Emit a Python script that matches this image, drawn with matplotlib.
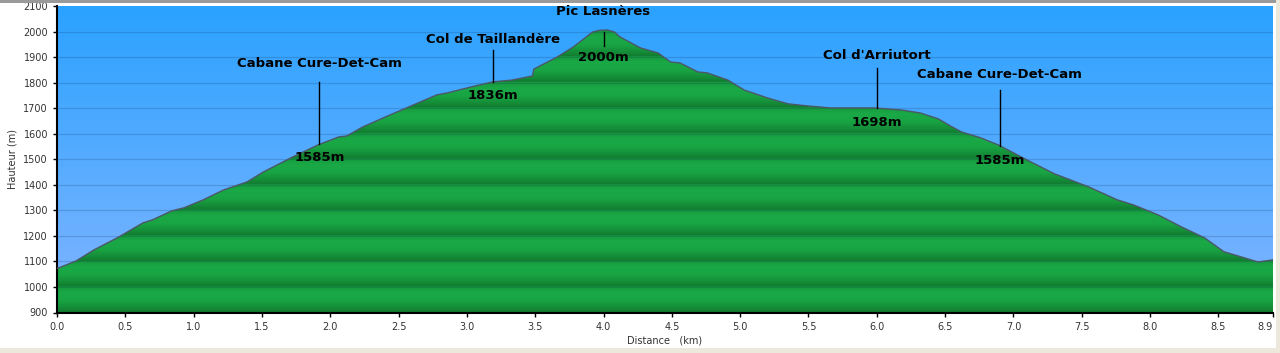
import matplotlib
matplotlib.use("Agg")
import matplotlib.pyplot as plt
import numpy as np
from matplotlib.patches import Polygon, Rectangle
from matplotlib.colors import LinearSegmentedColormap

# Elevation profile
dist_km = [0.0, 0.14, 0.27, 0.44, 0.63, 0.70, 0.84, 0.93, 1.07, 1.22, 1.39, 1.51,
           1.71, 1.91, 2.06, 2.12, 2.24, 2.44, 2.61, 2.78, 2.86, 3.03, 3.19, 3.33,
           3.48, 3.49, 3.66, 3.78, 3.92, 3.97, 4.03, 4.08, 4.12, 4.27, 4.40, 4.49, 4.56,
           4.69, 4.76, 4.91, 5.03, 5.20, 5.35, 5.49, 5.66, 5.98, 6.18, 6.32, 6.45,
           6.54, 6.62, 6.76, 6.89, 7.10, 7.30, 7.55, 7.76, 7.88, 8.06, 8.23, 8.40,
           8.54, 8.69, 8.79, 8.9]
elev_m = [1072, 1102, 1145, 1192, 1251, 1263, 1298, 1310, 1341, 1380, 1411, 1450,
          1505, 1556, 1587, 1591, 1627, 1674, 1713, 1752, 1760, 1783, 1803, 1810,
          1826, 1853, 1900, 1940, 1998, 2005, 2006, 1998, 1979, 1936, 1916, 1881, 1877,
          1842, 1838, 1810, 1771, 1740, 1717, 1709, 1701, 1701, 1693, 1681, 1658,
          1630, 1607, 1584, 1556, 1497, 1443, 1392, 1341, 1321, 1282, 1235, 1192,
          1138, 1114, 1098, 1106]

# Waypoints
wp_names = ["Cabane Cure-Det-Cam", "Col de Taillandère", "Pic Lasnères",
            "Col d'Arriutort", "Cabane Cure-Det-Cam"]
wp_km = [1.92, 3.19, 4.0, 6.0, 6.90]
wp_alt = ["1585m", "1836m", "2000m", "1698m", "1585m"]

# layout of the waypoint labels (elevation units)
name_y = [1873, 1967, 2077, 1908, 1830]
line_top = [1803, 1928, 1998, 1857, 1771]
line_bot = [None, None, 1944, None, None]
value_y = [1505, 1748, 1900, 1642, 1497]

xticks = [0.0, 0.5, 1.0, 1.5, 2.0, 2.5, 3.0, 3.5, 4.0, 4.5, 5.0, 5.5, 6.0, 6.5,
          7.0, 7.5, 8.0, 8.5, 8.9]
yticks = list(range(900, 2101, 100))

x0, x1 = 0.0, 8.9
y0, y1 = 900, 2100

fig = plt.figure(figsize=(12.8, 3.53), dpi=100)
fig.patch.set_facecolor("white")
ax = fig.add_axes([57 / 1280, 1 - 312.5 / 353, 1216 / 1280, 306.5 / 353])

# sky gradient
sky = LinearSegmentedColormap.from_list("sky", [(130 / 255, 181 / 255, 1.0),
                                                (42 / 255, 162 / 255, 1.0)])
ax.imshow(np.linspace(0, 1, 256).reshape(-1, 1), origin="lower", aspect="auto",
          cmap=sky, extent=[x0, x1, y0, y1], zorder=0)

# banded green fill clipped to the profile
yy = np.linspace(y0, y1, 1200)
f = ((yy - y0) % 100) / 100.0
b = np.interp(f, [0, 0.15, 0.45, 0.75, 1.0], [0.0, 0.35, 0.9, 1.0, 0.65])
green = LinearSegmentedColormap.from_list("grn", ["#117a2f", "#1aa946"])
im = ax.imshow(b.reshape(-1, 1), origin="lower", aspect="auto", cmap=green,
               extent=[x0, x1, y0, y1], zorder=1, vmin=0, vmax=1,
               interpolation="bilinear")
poly = Polygon(list(zip(dist_km, elev_m)) + [(x1, y0), (x0, y0)], closed=True,
               facecolor="none", edgecolor="none")
ax.add_patch(poly)
im.set_clip_path(poly)

ax.plot(dist_km, elev_m, color="#4b5868", lw=1.0, zorder=3)

for yv in yticks[1:-1]:
    ax.axhline(yv, color="#10305a", alpha=0.2, lw=0.9, zorder=2)

# waypoints
for i in range(len(wp_names)):
    xk = wp_km[i]
    bot = line_bot[i] if line_bot[i] is not None else np.interp(xk, dist_km, elev_m)
    ax.plot([xk, xk], [line_top[i], bot], color="black", lw=1.0, zorder=4)
    ax.text(xk, name_y[i], wp_names[i], ha="center", va="center",
            fontsize=9.5, fontweight="bold", color="black", zorder=5)
    ax.text(xk, value_y[i], wp_alt[i], ha="center", va="center",
            fontsize=9.5, fontweight="bold", color="black", zorder=5)

ax.set_xlim(x0, x1)
ax.set_ylim(y0, y1)
ax.set_xticks(xticks)
ax.set_xticklabels(["%.1f" % v for v in xticks])
ax.get_xticklabels()[-1].set_horizontalalignment("right")
ax.set_yticks(yticks)
ax.tick_params(axis="both", labelsize=7, colors="black", labelcolor="#333333",
               length=3, width=1, direction="out")
ax.spines["top"].set_visible(False)
ax.spines["right"].set_visible(False)
ax.spines["left"].set_linewidth(1.5)
ax.spines["bottom"].set_linewidth(1.5)
ax.set_xlabel("Distance   (km)", fontsize=7, color="#333333", labelpad=3)
ax.set_ylabel("Hauteur (m)", fontsize=7, color="#333333", labelpad=4)

# frame of the picture
fig.add_artist(Rectangle((0, 1 - 3 / 353), 1, 3 / 353, transform=fig.transFigure,
                         facecolor="#9a9a9a", edgecolor="none"))
fig.add_artist(Rectangle((0, 0), 1, 5 / 353, transform=fig.transFigure,
                         facecolor="#ece9dc", edgecolor="none"))
fig.add_artist(Rectangle((1 - 4 / 1280, 0), 4 / 1280, 1, transform=fig.transFigure,
                         facecolor="#ece9dc", edgecolor="none"))

fig.savefig("out.png", dpi=100)
